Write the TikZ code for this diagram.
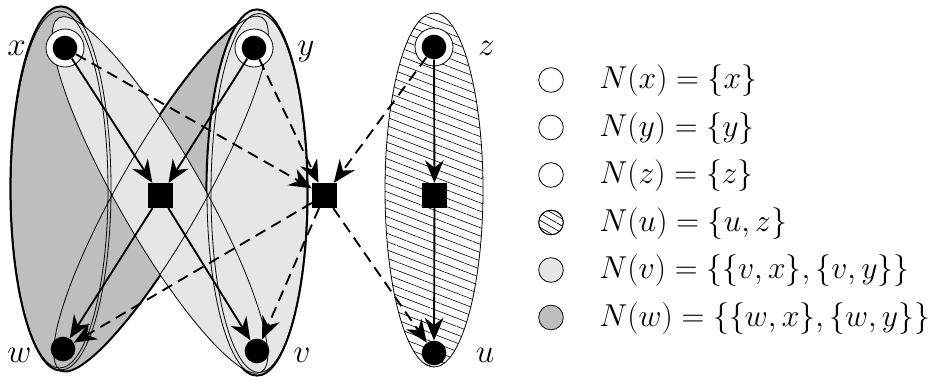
\documentclass[tikz,border=0pt]{standalone}
\usetikzlibrary{arrows.meta,patterns.meta}
\definecolor{dk}{RGB}{190,190,190}
\definecolor{lt}{RGB}{230,230,230}
\begin{document}
\begin{tikzpicture}[x=0.75pt,y=-0.75pt,
  dot/.style={circle,fill=black,inner sep=0pt,minimum size=18.5pt},
  ring/.style={circle,draw=black,fill=white,line width=0.6pt,inner sep=0pt,minimum size=28.5pt},
  sqr/.style={rectangle,fill=black,inner sep=0pt,minimum size=18.5pt},
  arr/.style={line width=1.4pt,-{Stealth[length=17pt,width=14pt,inset=5.5pt]}},
  darr/.style={arr,dash pattern=on 8.5pt off 5pt},
  thinline/.style={line width=0.6pt},
  thickline/.style={line width=2.4pt},
  lab/.style={font=\fontsize{24}{28}\selectfont,inner sep=0pt,anchor=base},
  legtext/.style={font=\fontsize{24}{28}\selectfont,inner sep=0pt,anchor=base west,scale=0.955,transform shape},
  legc/.style={circle,draw=black,line width=0.6pt,inner sep=0pt,minimum size=18.5pt},
  hatch/.style={pattern={Lines[angle=-21,distance=5.8pt,line width=0.45pt]}}
]
\useasboundingbox (0,0) rectangle (942,383);

% ---- dark group N(w)
\draw[thickline] (61,188.5) ellipse [x radius=50,y radius=181.5];
\draw[thickline,rotate around={60.2:(161,193.5)}] (161,193.5) ellipse [x radius=203,y radius=42];
\fill[dk] (61,188.5) ellipse [x radius=50,y radius=181.5];
\fill[dk,rotate around={60.2:(161,193.5)}] (161,193.5) ellipse [x radius=203,y radius=42];
% ---- light group N(v)
\draw[thickline] (257,192.5) ellipse [x radius=50,y radius=182.5];
\fill[lt] (257,192.5) ellipse [x radius=50,y radius=182.5];
\fill[lt,rotate around={-60.2:(160,195)}] (160,195) ellipse [x radius=204,y radius=42];
% ---- thin outlines
\draw[thinline] (61,188.5) ellipse [x radius=50,y radius=181.5];
\draw[thinline] (59.5,189.5) ellipse [x radius=48.5,y radius=178.5];
\draw[thinline,rotate around={60.2:(161,193.5)}] (161,193.5) ellipse [x radius=203,y radius=42];
\draw[thinline] (257,192.5) ellipse [x radius=50,y radius=182.5];
\draw[thinline] (259,193) ellipse [x radius=48,y radius=179.5];
\draw[thinline,rotate around={-60.2:(160,195)}] (160,195) ellipse [x radius=204,y radius=42];

% ---- hatched N(u)
\fill[white] (434,190) ellipse [x radius=49,y radius=177];
\fill[hatch] (434,190) ellipse [x radius=49,y radius=177];
\draw[thinline] (434,190) ellipse [x radius=49,y radius=177];

% ---- nodes
\node[ring] (rx) at (65,48) {};
\node[ring] (ry) at (254,48) {};
\node[ring] (rz) at (434,47) {};
\node[dot] (x) at (65,48) {};
\node[dot] (y) at (254,48) {};
\node[dot] (z) at (434,47) {};
\node[dot] (w) at (63,349) {};
\node[dot] (v) at (257,351) {};
\node[dot] (u) at (434,353) {};
\node[sqr] (s1) at (160.5,195.5) {};
\node[sqr] (s2) at (324.5,195.5) {};
\node[sqr] (s3) at (434.5,195.5) {};

% ---- arrows
\draw[arr] (x) -- (s1);
\draw[arr] (y) -- (s1);
\draw[arr] (s1) -- (w);
\draw[arr] (s1) -- (v);
\draw[arr] (z) -- (s3);
\draw[arr] (s3) -- (u);
\draw[darr] (x) -- (s2);
\draw[darr] (y) -- (s2);
\draw[darr] (z) -- (s2);
\draw[darr] (s2) -- (w);
\draw[darr] (s2) -- (v);
\draw[darr] (s2) -- (u);

% ---- labels
\node[lab] (lx) at (16.5,55) {$x$};
\node[lab] (ly) at (306,55) {$y$};
\node[lab] (lz) at (486.5,55) {$z$};
\node[lab] (lw) at (19.5,362) {$w$};
\node[lab] (lv) at (302,362) {$v$};
\node[lab] (lu) at (485,362) {$u$};

% ---- legend
\node[legc,fill=white] (c1) at (551,80) {};
\node[legc,fill=white] (c2) at (551,127.5) {};
\node[legc,fill=white] (c3) at (551,175) {};
\node[legc,fill=white] (c4) at (551,222.5) {};
\fill[pattern={Lines[angle=-30,distance=4.6pt,line width=0.5pt]}] (c4.center) circle [radius=9pt];
\node[legc] (c4b) at (551,222.5) {};
\node[legc,fill=lt] (c5) at (551,270) {};
\node[legc,fill=dk] (c6) at (551,317.5) {};
\node[legtext] (t1) at (599,88.5) {$N(x)=\{x\}$};
\node[legtext] (t2) at (599,136) {$N(y)=\{y\}$};
\node[legtext] (t3) at (599,183.5) {$N(z)=\{z\}$};
\node[legtext] (t4) at (599,231) {$N(u)=\{u,z\}$};
\node[legtext] (t5) at (599,278.5) {$N(v)=\{\{v,x\},\{v,y\}\}$};
\node[legtext] (t6) at (599,326) {$N(w)=\{\{w,x\},\{w,y\}\}$};
\end{tikzpicture}
\end{document}
